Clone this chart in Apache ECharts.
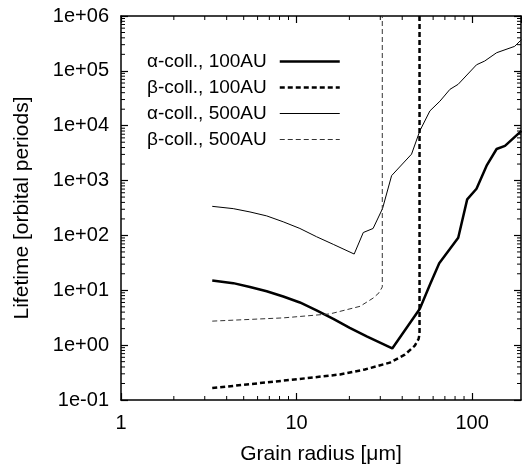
<!DOCTYPE html>
<html><head><meta charset="utf-8">
<script src="https://cdn.jsdelivr.net/npm/echarts@6/dist/echarts.min.js"></script>
<style>html,body{margin:0;padding:0;background:#fff}#c{width:522px;height:470px}</style>
</head><body><div id="c"></div>
<script>
// ---- data ----
const seriesNames = ['α-coll., 100AU', 'β-coll., 100AU', 'α-coll., 500AU', 'β-coll., 500AU'];

const alpha100X = [3.31, 4.36, 5.43, 6.76, 8.4, 10.45, 13.0, 16.2, 20.1, 25.1, 35.1, 50.4, 57.5, 65, 83.4, 93.8, 106, 121, 138, 154, 191];
const alpha100Y = [15.1, 13.5, 11.5, 9.6, 7.7, 6.0, 4.3, 3.0, 2.07, 1.45, 0.87, 4.6, 12.6, 31, 91, 454, 708, 1870, 3760, 4300, 8050];

const beta100X = [3.31, 10.4, 17.7, 24.5, 34, 41.4, 47.2, 49.6, 50.2, 50.2];
const beta100Y = [0.165, 0.242, 0.292, 0.36, 0.48, 0.67, 0.98, 1.3, 1.6, 1e7];

const alpha500X = [3.31, 4.36, 5.43, 6.76, 8.4, 10.45, 13.0, 16.2, 21.3, 24, 27.3, 30.9, 34.8, 45.2, 50.4, 57.5, 65.6, 74.8, 83.3, 106, 118, 138, 175, 191];
const alpha500Y = [339, 308, 268, 227, 177, 134, 94.7, 68.7, 45.8, 113, 134, 309, 1230, 3030, 8050, 18600, 28000, 46000, 56800, 129000, 151000, 214000, 280000, 370000];

const beta500X = [3.31, 8.4, 15.5, 23, 27.3, 29.5, 30.8, 30.8];
const beta500Y = [2.74, 3.14, 3.71, 5.1, 7.2, 9, 11.5, 1e7];

const xTickLabels = ['1', '10', '100'];
const yTickLabels = ['1e-01', '1e+00', '1e+01', '1e+02', '1e+03', '1e+04', '1e+05', '1e+06'];
const xRange = [1, 190];
const yRange = [0.1, 1e6];
// -----------------------------------------------

const zip = (xs, ys) => xs.map((x, i) => [x, ys[i]]);
const FONT = 'Liberation Sans';

function decadeIndex(v, base) {
  const e = Math.log10(v) - base;
  const r = Math.round(e);
  return Math.abs(e - r) < 1e-6 ? r : -1;
}

// minor tick positions (2..9 within each decade)
const tickData = [];
for (let d = xRange[0]; d < xRange[1]; d *= 10) {
  for (let k = 2; k <= 9; k++) { const v = k * d; if (v < xRange[1]) tickData.push([v, 1, 0]); }
}
for (let d = yRange[0]; d < yRange[1] * 0.99; d *= 10) {
  for (let k = 2; k <= 9; k++) { tickData.push([1, k * d, 1]); }
}

const styles = [
  {color: '#000', width: 2.5, type: 'solid'},
  {color: '#000', width: 2.5, type: [5, 3]},
  {color: '#000', width: 1, type: 'solid'},
  {color: '#333', width: 1, type: [5, 3]}
];

const chart = echarts.init(document.getElementById('c'), null, {renderer: 'canvas'});

const axisCommon = {
  type: 'log', logBase: 10,
  axisLine: {show: true, lineStyle: {color: '#000', width: 1.5}},
  axisTick: {show: true, inside: true, length: 7, lineStyle: {color: '#000', width: 1.2}},
  splitLine: {show: false},
  minorTick: {show: false},
};

const dataSets = [zip(alpha100X, alpha100Y), zip(beta100X, beta100Y), zip(alpha500X, alpha500Y), zip(beta500X, beta500Y)];

const option = {
  animation: false,
  backgroundColor: '#fff',
  textStyle: {fontFamily: FONT},
  grid: {left: 121, top: 16, right: 1, bottom: 67, containLabel: false},
  legend: {
    orient: 'vertical', left: 142, top: 47, align: 'right',
    itemWidth: 60, itemHeight: 14, itemGap: 7,
    itemStyle: {opacity: 0, borderWidth: 0},
    textStyle: {fontFamily: FONT, fontSize: 19, color: '#000', width: 125, align: 'right', padding: [0, 8, 0, 0]},
    data: seriesNames.map((n, i) => ({name: n, itemStyle: {opacity: 0, borderWidth: 0}, lineStyle: {width: styles[i].width, type: styles[i].type, color: styles[i].color}}))
  },
  xAxis: [
    Object.assign({}, axisCommon, {
      position: 'bottom', min: xRange[0], max: xRange[1],
      name: 'Grain radius [μm]', nameLocation: 'middle', nameGap: 44,
      nameTextStyle: {fontFamily: FONT, fontSize: 21, color: '#000'},
      axisLabel: {
        show: true, margin: 13, fontFamily: FONT, fontSize: 20, color: '#000',
        showMaxLabel: false,
        formatter: v => { const i = decadeIndex(v, 0); return i >= 0 && i < xTickLabels.length ? xTickLabels[i] : ''; }
      }
    }),
    Object.assign({}, axisCommon, {
      position: 'top', min: xRange[0], max: xRange[1], axisLabel: {show: false}
    })
  ],
  yAxis: [
    Object.assign({}, axisCommon, {
      position: 'left', min: yRange[0], max: yRange[1],
      name: 'Lifetime [orbital periods]', nameLocation: 'middle', nameGap: 88,
      nameTextStyle: {fontFamily: FONT, fontSize: 21, color: '#000'},
      axisLabel: {
        show: true, margin: 12, fontFamily: FONT, fontSize: 20, color: '#000',
        formatter: v => { const i = decadeIndex(v, -1); return i >= 0 && i < yTickLabels.length ? yTickLabels[i] : ''; }
      }
    }),
    Object.assign({}, axisCommon, {
      position: 'right', min: yRange[0], max: yRange[1], axisLabel: {show: false}
    })
  ],
  series: seriesNames.map((n, i) => ({
    name: n, type: 'line', data: dataSets[i],
    symbol: 'none', showSymbol: false, smooth: false, clip: true,
    lineStyle: styles[i], itemStyle: {color: styles[i].color}
  })).concat([
    {
      type: 'custom', silent: true, clip: false, z: 5,
      data: tickData,
      renderItem: function (params, api) {
        const cs = params.coordSys;
        const flag = api.value(2);
        const L = 4;
        const st = {stroke: '#000', lineWidth: 1};
        if (flag === 0) {
          const px = api.coord([api.value(0), 1])[0];
          const yb = cs.y + cs.height, yt = cs.y;
          return {type: 'group', children: [
            {type: 'line', shape: {x1: px, y1: yb, x2: px, y2: yb - L}, style: st},
            {type: 'line', shape: {x1: px, y1: yt, x2: px, y2: yt + L}, style: st}
          ]};
        } else {
          const py = api.coord([1, api.value(1)])[1];
          const xl = cs.x, xr = cs.x + cs.width;
          return {type: 'group', children: [
            {type: 'line', shape: {x1: xl, y1: py, x2: xl + L, y2: py}, style: st},
            {type: 'line', shape: {x1: xr, y1: py, x2: xr - L, y2: py}, style: st}
          ]};
        }
      }
    }
  ])
};
chart.setOption(option);
</script>
</body></html>
